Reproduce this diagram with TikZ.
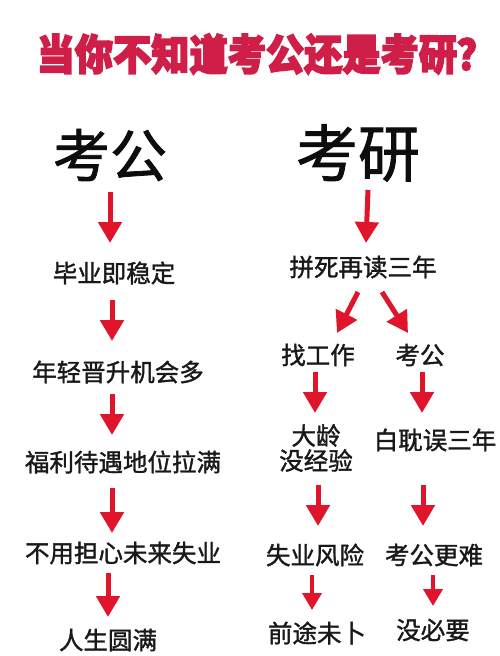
\documentclass[tikz,border=0pt]{standalone}
\usepackage{fontspec}
\setmainfont{Noto Sans CJK SC}
\newfontfamily\cjkmed{Noto Sans CJK SC}[FakeBold=1.4]
\newfontfamily\cjktitle{Noto Sans CJK SC}[FakeBold=4]
\usetikzlibrary{arrows.meta}
\definecolor{titlered}{HTML}{CF1F48}
\definecolor{arrowred}{HTML}{E0142A}
\tikzset{
  lvl/.style={inner sep=0pt, font=\fontsize{24.5}{28}\selectfont\cjkmed, text=black!90, align=center},
  head/.style={inner sep=0pt, text=black!95},
  redarrow/.style={draw=arrowred, line width=5pt, -{Triangle[length=21pt,width=23pt]}},
  smallarrow/.style={draw=arrowred, line width=4pt, -{Triangle[length=17pt,width=19pt]}},
}
\begin{document}
\begin{tikzpicture}[x=1pt,y=-1pt]
\useasboundingbox[fill=white] (0,0) rectangle (500,656);
% title
\begin{scope}[shift={(266,54)}, xscale=0.91]
\node[inner sep=0pt, text=titlered, transform shape, font=\fontsize{42}{46}\selectfont\bfseries\cjktitle] (title) at (0,0) {当你不知道考公还是考研？};
\end{scope}
% headings
\node[head, font=\fontsize{57}{60}\selectfont\cjkmed] (kg) at (110,155) {考公};
\node[head, font=\fontsize{62}{66}\selectfont\cjkmed] (ky) at (358,153) {考研};
% left column
\node[lvl] (l1) at (114,273) {毕业即稳定};
\node[lvl] (l2) at (118,372) {年轻晋升机会多};
\node[lvl] (l3) at (123,462) {福利待遇地位拉满};
\node[lvl] (l4) at (123,553) {不用担心未来失业};
\node[lvl] (l5) at (108,640) {人生圆满};
\coordinate (a1s) at (110,192); \coordinate (a1e) at (110,243);
\coordinate (a2s) at (112,300); \coordinate (a2e) at (112,341);
\coordinate (a3s) at (112,394); \coordinate (a3e) at (112,435);
\coordinate (a4s) at (112,488); \coordinate (a4e) at (112,533);
\coordinate (a5s) at (108,573); \coordinate (a5e) at (108,617);
\draw[redarrow] (a1s) -- (a1e);
\draw[redarrow] (a2s) -- (a2e);
\draw[redarrow] (a3s) -- (a3e);
\draw[redarrow] (a4s) -- (a4e);
\draw[redarrow] (a5s) -- (a5e);
% right column
\node[lvl] (r1) at (363,267) {拼死再读三年};
\node[lvl] (r2a) at (318,355) {找工作};
\node[lvl] (r2b) at (420,355) {考公};
\node[lvl, align=center] (r3a) at (316,448) {大龄\\[-3pt]没经验};
\node[lvl] (r3b) at (435,440) {白耽误三年};
\node[lvl] (r4a) at (315,555) {失业风险};
\node[lvl] (r4b) at (434,555) {考公更难};
\node[lvl] (r5a) at (317,633) {前途未卜};
\node[lvl] (r5b) at (433,630) {没必要};
\coordinate (b1s) at (368,190); \coordinate (b1e) at (366,243);
\coordinate (b2s) at (358,292); \coordinate (b2e) at (337,333);
\coordinate (b3s) at (382,292); \coordinate (b3e) at (408,333);
\coordinate (b4s) at (315,372); \coordinate (b4e) at (315,413);
\coordinate (b5s) at (422,372); \coordinate (b5e) at (422,413);
\coordinate (b6s) at (318,485); \coordinate (b6e) at (318,526);
\coordinate (b7s) at (423,485); \coordinate (b7e) at (423,526);
\coordinate (b8s) at (312,575); \coordinate (b8e) at (312,610);
\coordinate (b9s) at (433,575); \coordinate (b9e) at (433,606);
\draw[redarrow] (b1s) -- (b1e);
\draw[redarrow] (b2s) -- (b2e);
\draw[redarrow] (b3s) -- (b3e);
\draw[redarrow] (b4s) -- (b4e);
\draw[redarrow] (b5s) -- (b5e);
\draw[redarrow] (b6s) -- (b6e);
\draw[redarrow] (b7s) -- (b7e);
\draw[smallarrow] (b8s) -- (b8e);
\draw[smallarrow] (b9s) -- (b9e);
\end{tikzpicture}
\end{document}
